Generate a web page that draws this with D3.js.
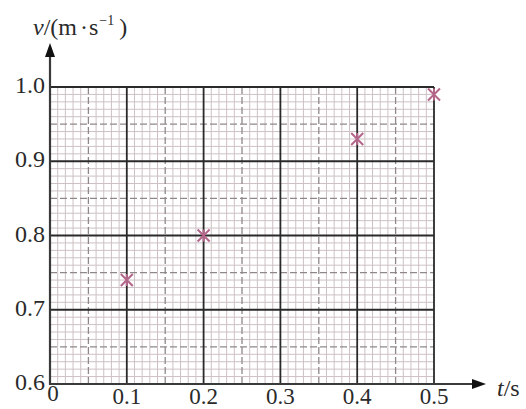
<!DOCTYPE html>
<html><head><meta charset="utf-8">
<script src="https://cdn.jsdelivr.net/npm/d3@7"></script>
<style>body{margin:0;background:#fff}svg{display:block}</style>
</head><body>
<script>
const tValues = [0.1, 0.2, 0.4, 0.5];
const vValues = [0.74, 0.80, 0.93, 0.99];
const xTicks = [0.1, 0.2, 0.3, 0.4, 0.5];
const yTicks = [0.6, 0.7, 0.8, 0.9, 1.0];
const xTickLabels = ["0.1", "0.2", "0.3", "0.4", "0.5"];
const yTickLabels = ["0.6", "0.7", "0.8", "0.9", "1.0"];

const W = 526, H = 409;
const svg = d3.select("body").append("svg").attr("width", W).attr("height", H);
const x = d3.scaleLinear().domain([0, 0.5]).range([50, 434]);
const y = d3.scaleLinear().domain([0.6, 1.0]).range([384, 87]);

const font = "'Liberation Serif','Times New Roman',serif";
const txt = "#2a2a2a";

// minor grid every 0.01
const minorX = d3.range(1, 50).map(i => i / 100).filter(v => Math.round(v * 100) % 5 !== 0);
const minorY = d3.range(61, 100).map(i => i / 100).filter(v => Math.round(v * 100) % 5 !== 0);
const g = svg.append("g");
g.selectAll(".mx").data(minorX).join("line")
  .attr("x1", d => x(d)).attr("x2", d => x(d)).attr("y1", y(0.6)).attr("y2", y(1.0))
  .attr("stroke", "#cdc1c4").attr("stroke-width", 1);
g.selectAll(".my").data(minorY).join("line")
  .attr("y1", d => y(d)).attr("y2", d => y(d)).attr("x1", x(0)).attr("x2", x(0.5))
  .attr("stroke", "#cdc1c4").attr("stroke-width", 1);
// dashed half lines
const halfX = [0.05, 0.15, 0.25, 0.35, 0.45];
const halfY = [0.65, 0.75, 0.85, 0.95];
g.selectAll(".hx").data(halfX).join("line")
  .attr("x1", d => x(d)).attr("x2", d => x(d)).attr("y1", y(0.6)).attr("y2", y(1.0))
  .attr("stroke", "#908888").attr("stroke-width", 1.3).attr("stroke-dasharray", "7,3");
g.selectAll(".hy").data(halfY).join("line")
  .attr("y1", d => y(d)).attr("y2", d => y(d)).attr("x1", x(0)).attr("x2", x(0.5))
  .attr("stroke", "#908888").attr("stroke-width", 1.3).attr("stroke-dasharray", "7,3");
// major lines
g.selectAll(".Mx").data(xTicks).join("line")
  .attr("x1", d => x(d)).attr("x2", d => x(d)).attr("y1", y(0.6)).attr("y2", y(1.0))
  .attr("stroke", "#2a2a2a").attr("stroke-width", 1.8);
g.selectAll(".My").data(yTicks.slice(1)).join("line")
  .attr("y1", d => y(d)).attr("y2", d => y(d)).attr("x1", x(0)).attr("x2", x(0.5))
  .attr("stroke", "#2a2a2a").attr("stroke-width", 1.8);

// axes with arrows
svg.append("line").attr("x1", x(0)).attr("x2", x(0)).attr("y1", y(0.6) + 1).attr("y2", 52)
  .attr("stroke", "#3a3a3a").attr("stroke-width", 2.2);
svg.append("line").attr("x1", x(0) - 1).attr("x2", 476).attr("y1", y(0.6)).attr("y2", y(0.6))
  .attr("stroke", "#3a3a3a").attr("stroke-width", 2.2);
svg.append("path").attr("d", `M${x(0)},43 L${x(0)-5},57 L${x(0)+5},57 Z`).attr("fill", "#111");
svg.append("path").attr("d", `M486,${y(0.6)} L472,${y(0.6)-5} L472,${y(0.6)+5} Z`).attr("fill", "#111");

// tick labels
svg.selectAll(".yl").data(yTicks).join("text")
  .attr("x", 45).attr("y", d => y(d) + 6).attr("text-anchor", "end")
  .attr("font-family", font).attr("font-size", 24).attr("fill", txt)
  .text((d, i) => yTickLabels[i]);
svg.selectAll(".xl").data(xTicks).join("text")
  .attr("x", d => x(d)).attr("y", 404).attr("text-anchor", "middle")
  .attr("font-family", font).attr("font-size", 23).attr("fill", txt)
  .text((d, i) => xTickLabels[i]);
svg.append("text").attr("x", 53).attr("y", 401).attr("text-anchor", "middle")
  .attr("font-family", font).attr("font-size", 23).attr("fill", txt).text("0");

// axis titles
const yt = svg.append("text").attr("x", 33).attr("y", 35)
  .attr("font-family", font).attr("font-size", 24).attr("fill", txt);
yt.append("tspan").attr("font-style", "italic").text("v");
yt.append("tspan").text("/(m");
yt.append("tspan").attr("dx", 3).text("·");
yt.append("tspan").attr("dx", 1).text("s");
yt.append("tspan").attr("font-size", 14).attr("dy", -10).attr("dx", 1).text("−1");
yt.append("tspan").attr("dy", 10).attr("dx", 5).text(")");
const xt = svg.append("text").attr("x", 497).attr("y", 396)
  .attr("font-family", font).attr("font-size", 24).attr("fill", txt);
xt.append("tspan").attr("font-style", "italic").text("t");
xt.append("tspan").text("/s");

// data markers
const pts = tValues.map((t, i) => ({t, v: vValues[i]}));
const mk = svg.selectAll(".pt").data(pts).join("g")
  .attr("transform", d => `translate(${x(d.t)},${y(d.v)})`);
const s = 6;
mk.append("path").attr("d", `M${-s},${-s}L${s},${s}M${-s},${s}L${s},${-s}M0,${-s}L0,${s}`)
  .attr("stroke", "#b4668a").attr("stroke-width", 2).attr("fill", "none");
</script>
</body></html>
